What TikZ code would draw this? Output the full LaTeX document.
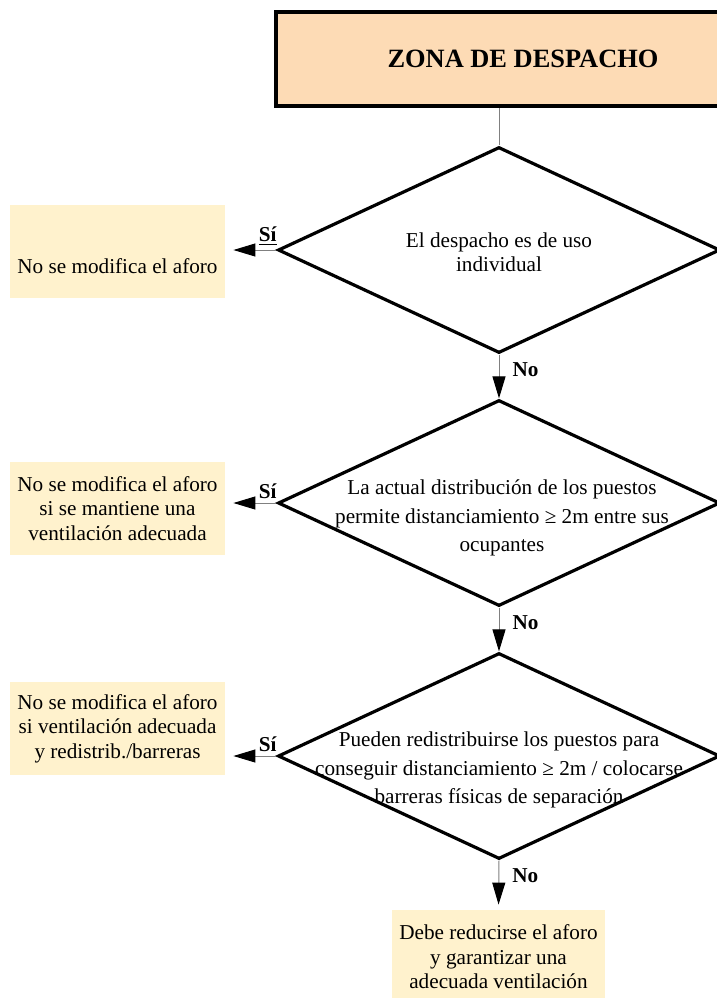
\documentclass[tikz,border=0pt]{standalone}
\usepackage{fontspec}
\setmainfont{Liberation Serif}
\usetikzlibrary{shapes.geometric,arrows.meta,positioning}
\definecolor{peach}{RGB}{253,219,181}
\definecolor{cream}{RGB}{255,242,205}

\tikzset{
  titlebox/.style={draw=black, line width=2pt, fill=peach, minimum width=247pt, minimum height=47pt, font=\fontsize{13.2}{15}\selectfont\bfseries},
  decision/.style={draw=black, line width=1.6pt, shape=diamond, minimum width=221pt, minimum height=103pt, inner sep=0pt},
  dtext/.style={align=center, font=\fontsize{10.6}{12.2}\selectfont},
  widetext/.style={dtext, font=\fontsize{10.6}{14.2}\selectfont},
  resbox/.style={fill=cream, minimum width=107.5pt, minimum height=46.5pt, align=center, font=\fontsize{10.6}{12.2}\selectfont},
  link/.style={draw=gray, line width=0.5pt},
  arr/.style={link, -{Triangle[length=11pt,width=6.5pt,black]}},
  lbl/.style={font=\fontsize{10.6}{12}\selectfont\bfseries, inner sep=2pt}
}

\begin{document}
\begin{tikzpicture}[x=0.5pt,y=-0.5pt]
\useasboundingbox (0,0) rectangle (717,998);
\clip (0,0) rectangle (717,998);

\node[titlebox] (zona) at (523,59) {ZONA DE DESPACHO};

\node[decision] (d1) at (499,250) {};
\node[dtext] (d1t) at ([yshift=-1pt]d1.center) {El despacho es de uso\\individual};
\node[decision] (d2) at (499,503) {};
\node[widetext] (d2t) at ([yshift=-7.5pt,xshift=1.5pt]d2.center) {La actual distribución de los puestos\\permite distanciamiento ≥ 2m entre sus\\ocupantes};
\node[decision] (d3) at (499,756) {};
\node[widetext] (d3t) at ([yshift=-7pt]d3.center) {Pueden redistribuirse los puestos para\\conseguir distanciamiento ≥ 2m / colocarse\\barreras físicas de separación};

\node[resbox, text height=21.7pt, text depth=0pt] (b1) at (117.5,251.5) {No se modifica el aforo};
\node[resbox] (b2) at (117.5,508.5) {No se modifica el aforo\\si se mantiene una\\ventilación adecuada};
\node[resbox] (b3) at (117.5,728.5) {No se modifica el aforo\\si ventilación adecuada\\y redistrib./barreras};
\node[resbox, minimum width=106.5pt, minimum height=47pt] (fin) at (498.5,957) {Debe reducirse el aforo\\y garantizar una\\adecuada ventilación};

\draw[link] (zona.south -| d1.north) -- (d1.north);
\draw[arr] (d1.south) -- node[lbl, anchor=west, xshift=4.5pt, pos=0.35] (no1) {No} (d2.north);
\draw[arr] (d2.south) -- node[lbl, anchor=west, xshift=4.5pt, pos=0.35] (no2) {No} (d3.north);
\draw[arr, shorten >=2.5pt] (d3.south) -- node[lbl, anchor=west, xshift=4.5pt, pos=0.3] (no3) {No} (fin.north);

\draw[arr, shorten >=4pt] (d1.west) -- node[lbl, above, pos=0.17] (si1) {\underline{Sí}} (d1.west -| b1.east);
\draw[arr, shorten >=4pt] (d2.west) -- node[lbl, above, pos=0.17] (si2) {Sí} (d2.west -| b2.east);
\draw[arr, shorten >=4pt] (d3.west) -- node[lbl, above, pos=0.17] (si3) {Sí} (d3.west -| b3.east);
\end{tikzpicture}
\end{document}
